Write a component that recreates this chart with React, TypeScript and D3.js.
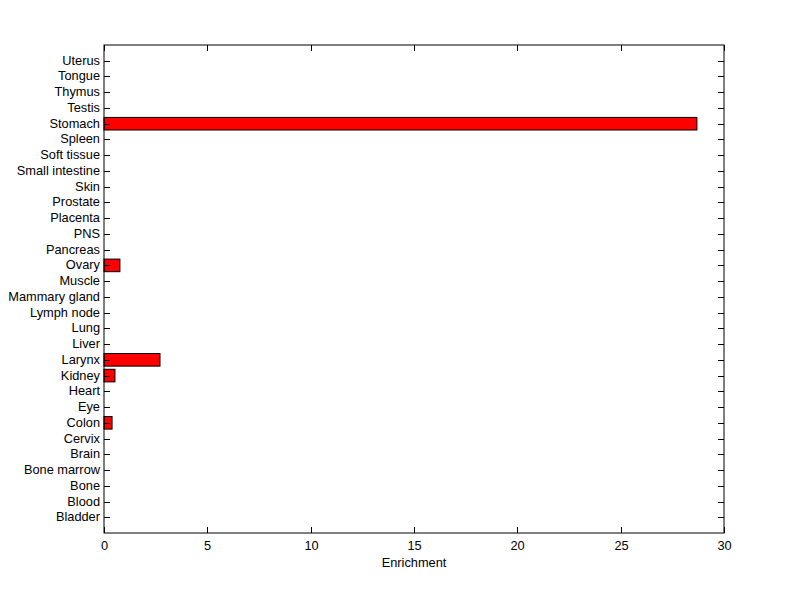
import React from "react";
import { scaleLinear } from "d3";

const width = 800;
const height = 599;
const margin = { left: 104, right: 76, top: 45, bottom: 66 };
const tickLen = 6;

// bottom to top, as in the figure
const tissues = [
  "Bladder", "Blood", "Bone", "Bone marrow", "Brain", "Cervix", "Colon", "Eye",
  "Heart", "Kidney", "Larynx", "Liver", "Lung", "Lymph node", "Mammary gland",
  "Muscle", "Ovary", "Pancreas", "PNS", "Placenta", "Prostate", "Skin",
  "Small intestine", "Soft tissue", "Spleen", "Stomach", "Testis", "Thymus",
  "Tongue", "Uterus",
];
const enrichment = [
  0, 0, 0, 0, 0, 0, 0.39, 0, 0, 0.53, 2.71, 0, 0, 0, 0, 0, 0.77, 0, 0, 0, 0, 0,
  0, 0, 0, 28.69, 0, 0, 0, 0,
];
const xTicks = [0, 5, 10, 15, 20, 25, 30];

const font = "Arial, 'Liberation Sans', Helvetica, sans-serif";

function App() {
  const x = scaleLinear()
    .domain([0, 30])
    .range([margin.left, width - margin.right]);
  const y = scaleLinear()
    .domain([0, tissues.length + 1])
    .range([height - margin.bottom, margin.top]);
  const bandH = Math.abs(y(0.8) - y(0));
  const x0 = x(0);
  const x1 = x(30);
  const yTop = y(tissues.length + 1);
  const yBot = y(0);

  return (
    <svg
      width={width}
      height={height}
      style={{ position: "absolute", left: 0, top: 0, background: "#fff" }}
      fontFamily={font}
      fontSize={12.8}
    >
      <rect x={0} y={0} width={width} height={height} fill="#fff" />
      {enrichment.map((v, i) =>
        v > 0 ? (
          <rect
            key={`bar${i}`}
            x={x0}
            y={y(i + 1) - bandH / 2}
            width={x(v) - x0}
            height={bandH}
            fill="#ff0000"
            stroke="#000"
            strokeWidth={1}
          />
        ) : null
      )}
      <rect
        x={x0}
        y={yTop}
        width={x1 - x0}
        height={yBot - yTop}
        fill="none"
        stroke="#000"
        strokeWidth={1}
      />
      {tissues.map((t, i) => {
        const yy = Math.round(y(i + 1)) + 0.5;
        return (
          <g key={`yt${i}`}>
            <line x1={x0} x2={x0 + tickLen} y1={yy} y2={yy} stroke="#000" />
            <line x1={x1} x2={x1 - tickLen} y1={yy} y2={yy} stroke="#000" />
            <text x={x0 - 4} y={yy - 1} dy="0.35em" textAnchor="end">
              {t}
            </text>
          </g>
        );
      })}
      {xTicks.map((t) => {
        const xx = Math.round(x(t)) + 0.5;
        return (
          <g key={`xt${t}`}>
            <line x1={xx} x2={xx} y1={yBot} y2={yBot - tickLen} stroke="#000" />
            <line x1={xx} x2={xx} y1={yTop} y2={yTop + tickLen} stroke="#000" />
            <text x={xx} y={yBot + 17} textAnchor="middle">
              {t}
            </text>
          </g>
        );
      })}
      <text x={(x0 + x1) / 2} y={yBot + 34} textAnchor="middle">
        Enrichment
      </text>
    </svg>
  );
}

export default App;
